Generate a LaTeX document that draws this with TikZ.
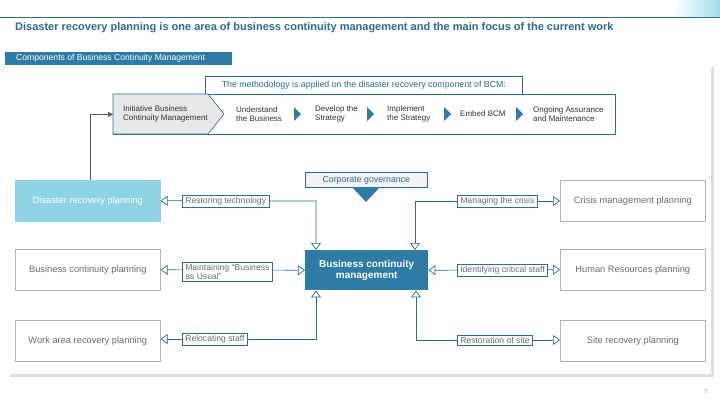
\documentclass[tikz,border=0pt]{standalone}
\usepackage{fontspec}
\setmainfont{Liberation Sans}
\usetikzlibrary{arrows.meta,calc}
\definecolor{bblue}{HTML}{2E7BA6}
\definecolor{tblue}{HTML}{2A6D96}
\definecolor{cyanb}{HTML}{8ED4E2}
\definecolor{gtext}{HTML}{6E6E6E}
\begin{document}
\begin{tikzpicture}[x=1pt,y=-1pt,
  outer/.style={draw=gray!60,line width=0.6pt,fill=white,minimum width=145pt,minimum height=41pt,text=gtext,font=\fontsize{9.3}{11}\selectfont,anchor=north west,inner sep=0pt},
  lab/.style={draw=tblue,fill=white,line width=0.6pt,text=gtext,font=\fontsize{8.6}{9}\selectfont,anchor=west,inner xsep=3pt,inner ysep=2pt,align=left},
  conn/.style={draw=tblue,line width=0.7pt,{Triangle[open,width=10pt,length=7pt]}-{Triangle[open,width=10pt,length=7pt]}},
  stp/.style={font=\fontsize{8}{9}\selectfont,text=black!80,align=left,anchor=west,inner sep=0pt}]
\useasboundingbox (0,0) rectangle (720,405);
\fill[white] (0,0) rectangle (720,405);
% header
\shade[left color=white,right color=cyanb!80] (680,0) -- (720,0) -- (720,17) -- (672,17) -- cycle;
\draw[tblue,line width=0.8pt] (0,17) -- (720,17);
\node[anchor=west,inner sep=0pt,text=tblue,font=\bfseries\fontsize{11}{13}\selectfont] (title) at (15,27.5) {Disaster recovery planning is one area of business continuity management and the main focus of the current work};
\fill[bblue] (5,52) rectangle (232,65);
\node[anchor=west,inner sep=0pt,text=white,font=\fontsize{8.6}{10}\selectfont] (tab) at (16,58.5) {Components of Business Continuity Management};
\fill[gray!25] (10,67) rectangle (714,377);
\fill[white] (8,65) rectangle (711,374);
% methodology
\node[draw=tblue,line width=0.7pt,fill=white,minimum width=317pt,minimum height=18pt,anchor=north west,inner sep=0pt,text=tblue,font=\fontsize{8.8}{10}\selectfont] (meth) at (205,76) {The methodology is applied on the disaster recovery component of BCM:};
\node[draw=tblue,line width=0.7pt,minimum width=502pt,minimum height=40pt,anchor=north west,inner sep=0pt] (proc) at (113,94) {};
\filldraw[fill=gray!18,draw=tblue,line width=0.6pt] (113,94) -- (208,94) -- (224,114) -- (208,134) -- (113,134) -- cycle;
\node[stp] (s1) at (123,114) {Initiative Business\\Continuity Management};
\node[stp] (s2) at (236,114) {Understand\\the Business};
\node[stp] (s3) at (315,114) {Develop the\\Strategy};
\node[stp] (s4) at (387,114) {Implement\\the Strategy};
\node[stp] (s5) at (460,114) {Embed BCM};
\node[stp] (s6) at (533,114) {Ongoing Assurance\\and Maintenance};
\foreach \x in {294,367,444,516} \fill[bblue] (\x,107) -- (\x+7,114) -- (\x,121) -- cycle;
% corporate governance
\node[draw=tblue,line width=0.7pt,fill=gray!10,minimum width=122pt,minimum height=15pt,anchor=north west,inner sep=0pt,text=tblue,font=\fontsize{8.8}{10}\selectfont] (cg) at (305,172) {Corporate governance};
\fill[bblue] (352,187) -- (380,187) -- (366,202) -- cycle;
% BCM
\node[fill=bblue,minimum width=123pt,minimum height=40pt,anchor=north west,inner sep=0pt,text=white,align=center,font=\bfseries\fontsize{10}{11.5}\selectfont] (bcm) at (305,250) {Business continuity\\management};
% outer boxes
\node[outer,fill=cyanb,draw=cyanb,text=white] (drp) at (15,180) {Disaster recovery planning};
\node[outer] (bcp) at (15,249) {Business continuity planning};
\node[outer] (war) at (15,320) {Work area recovery planning};
\node[outer] (cmp) at (560,180) {Crisis management planning};
\node[outer] (hrp) at (560,249) {Human Resources planning};
\node[outer] (srp) at (560,320) {Site recovery planning};
% connectors
\coordinate (c1) at (316,201); \coordinate (c2) at (415,201);
\coordinate (c3) at (316,339); \coordinate (c4) at (416,340);
\coordinate (d0) at (90,180);
\draw[conn] (drp.east) -- (c1) -- (bcm.north west -| c1);
\draw[conn] (cmp.west |- c2) -- (c2) -- (bcm.north west -| c2);
\draw[conn] (bcp.east) -- (bcm.west);
\draw[conn] (hrp.west) -- (bcm.east);
\draw[conn] (war.east |- c3) -- (c3) -- (bcm.south west -| c3);
\draw[conn] (srp.west |- c4) -- (c4) -- (bcm.south west -| c4);
\node[lab] (l1) at (182,201) {Restoring technology};
\node[lab] (l2) at (182,271.5) {Maintaining “Business\\as Usual”};
\node[lab] (l3) at (182,339) {Relocating staff};
\node[lab] (l4) at (457,201) {Managing the crisis};
\node[lab] (l5) at (457,270) {Identifying critical staff};
\node[lab] (l6) at (457,340) {Restoration of site};
% drp to process
\draw[gray!70!black,line width=0.6pt,-{Triangle[width=5pt,length=5pt]}] (d0) |- (proc.west);
\node[text=gray,font=\fontsize{5.5}{6}\selectfont,inner sep=0pt] (pg) at (706,392) {7};
\end{tikzpicture}
\end{document}
